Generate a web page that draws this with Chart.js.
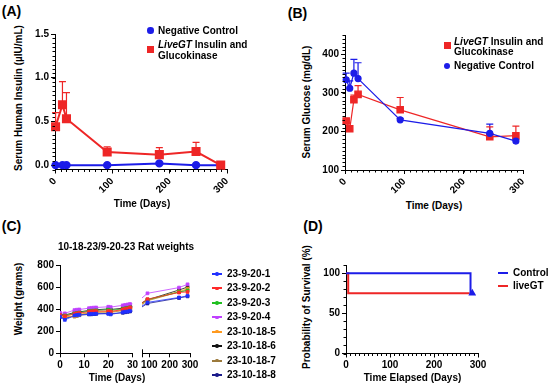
<!DOCTYPE html>
<html>
<head>
<meta charset="utf-8">
<script src="https://cdn.jsdelivr.net/npm/chart.js@4.4.1/dist/chart.umd.min.js"></script>
<style>
  body { margin: 0; width: 550px; height: 386px; position: relative; overflow: hidden; background: #fff;
         font-family: 'Liberation Sans', Arial, sans-serif; font-weight: bold; color: #000; }
  canvas { position: absolute; }
  .t { position: absolute; white-space: nowrap; line-height: 1; }
  .mk { position: absolute; }
</style>
</head>
<body>
<canvas id="panelA"></canvas>
<canvas id="panelB"></canvas>
<canvas id="panelC1"></canvas>
<canvas id="panelC2"></canvas>
<canvas id="panelD"></canvas>
<script>
// (A) serum human insulin
const insulinDays = [1, 13, 20, 91, 182, 246, 289];
const insulinControl = [0, 0, 0, 0, 0.02, 0, 0];
const insulinLiveGT = [0.44, 0.69, 0.53, 0.15, 0.12, 0.155, 0];
const insulinLiveGTUpper = [0.6, 0.955, 0.83, 0.21, 0.2, 0.26, 0];
const insulinTicks = [0, 0.5, 1.0, 1.5];
const dayTicks = [0, 100, 200, 300];

// (B) serum glucose
const glucoseDays = [2, 8, 15, 22, 93, 244, 288];
const glucoseLiveGT = [227, 207, 282, 296, 256, 186, 189];
const glucoseLiveGTUpper = [227, 207, 294, 319, 288, 212, 214];
const glucoseControl = [334, 312, 351, 337, 230, 195, 175];
const glucoseControlUpper = [351, 331, 387, 378, 234, 219, 180];
const glucoseTicks = [100, 200, 300, 400];

// (C) rat weights
const weightDays = [0, 2, 6, 7, 8, 12, 13, 14, 15, 20, 21, 26, 27, 28, 29, 91, 246, 288];
const rat1 = [335, 305, 345, 350, 352, 358, 360, 360, 362, 360, 355, 375, 380, 382, 388, 465, 510, 525];
const rat2 = [350, 340, 360, 365, 368, 380, 382, 384, 385, 386, 382, 400, 405, 410, 418, 495, 555, 560];
const rat3 = [345, 345, 362, 368, 372, 385, 388, 390, 392, 398, 392, 405, 410, 415, 420, 490, 560, 575];
const rat4 = [370, 365, 395, 398, 400, 412, 415, 417, 418, 425, 422, 438, 442, 446, 450, 548, 600, 630];
const rat5 = [340, 335, 340, 348, 355, 372, 374, 376, 378, 380, 378, 395, 398, 402, 408, 485, 565, 590];
const rat6 = [355, 350, 372, 375, 378, 392, 395, 396, 398, 405, 400, 412, 418, 422, 428, 488, 578, 605];
const rat7 = [345, 340, 335, 342, 350, 368, 370, 372, 374, 376, 374, 390, 394, 398, 402, 480, 560, 575];
const rat8 = [330, 320, 340, 345, 348, 355, 356, 358, 360, 365, 362, 370, 375, 378, 382, 455, 505, 520];
const ratWeights = [rat1, rat2, rat3, rat4, rat5, rat6, rat7, rat8];
const ratNames = ["23-9-20-1", "23-9-20-2", "23-9-20-3", "23-9-20-4", "23-10-18-5", "23-10-18-6", "23-10-18-7", "23-10-18-8"];
const weightTicks = [0, 200, 400, 600, 800];
const earlyDayTicks = [0, 10, 20, 30];
const lateDayTicks = [100, 200, 300];

// (D) survival
const controlDays = [0, 283, 287];
const controlSurvival = [100, 75, 75];
const liveGTDays = [0, 5, 281];
const liveGTSurvival = [100, 75, 75];
const survivalTicks = [0, 50, 100];

const BLUE = "#1c1ce8";
const RED = "#ee2626";
const ratColors = ["#2030ff", "#ff2a2a", "#20c020", "#c040ff", "#ff9a1f", "#111111", "#9c7a3c", "#1a1a8a"];

Chart.defaults.font.family = "'Liberation Sans', Arial, sans-serif";
Chart.defaults.font.size = 10;
Chart.defaults.font.weight = "bold";
Chart.defaults.color = "#000";

const pts = (xs, ys) => xs.map((x, i) => ({ x: x, y: ys[i] }));

// error bar caps, minor ticks, axis break mark
const axisExtras = {
  id: "axisExtras",
  beforeDatasetsDraw(chart) {
    const ctx = chart.ctx, xs = chart.scales.x, ys = chart.scales.y;
    chart.data.datasets.forEach((ds) => {
      if (!ds.upper) return;
      ctx.save();
      ctx.strokeStyle = ds.borderColor;
      ctx.lineWidth = 1.2;
      ds.data.forEach((p, j) => {
        const top = ds.upper[j];
        if (top == null || top <= p.y) return;
        const x = xs.getPixelForValue(p.x);
        const y0 = ys.getPixelForValue(p.y), y1 = ys.getPixelForValue(top);
        ctx.beginPath();
        ctx.moveTo(x, y0); ctx.lineTo(x, y1);
        ctx.moveTo(x - 3.5, y1); ctx.lineTo(x + 3.5, y1);
        ctx.stroke();
      });
      ctx.restore();
    });
  },
  afterDraw(chart, args, opts) {
    const ctx = chart.ctx, a = chart.chartArea;
    ctx.save();
    ctx.strokeStyle = "#000";
    ctx.lineWidth = 1;
    if (opts.xMinor) {
      const s = chart.scales.x;
      for (let k = Math.ceil(s.min / opts.xMinor); k * opts.xMinor <= s.max + 1e-9; k++) {
        const x = Math.round(s.getPixelForValue(k * opts.xMinor)) + 0.5;
        ctx.beginPath(); ctx.moveTo(x, a.bottom); ctx.lineTo(x, a.bottom + 2.5); ctx.stroke();
      }
    }
    if (opts.yMinor) {
      const s = chart.scales.y;
      for (let k = Math.ceil(s.min / opts.yMinor - 1e-9); k * opts.yMinor <= s.max + 1e-9; k++) {
        const y = Math.round(s.getPixelForValue(k * opts.yMinor)) + 0.5;
        ctx.beginPath(); ctx.moveTo(a.left - 2.5, y); ctx.lineTo(a.left, y); ctx.stroke();
      }
    }
    if (opts.breakMark) {
      const x = Math.round(a.left) + 0.5;
      ctx.beginPath(); ctx.moveTo(x, a.bottom - 4); ctx.lineTo(x, a.bottom + 4); ctx.stroke();
    }
    ctx.restore();
  }
};
Chart.register(axisExtras);

function axis(min, max, ticks, tickOpts) {
  return {
    type: "linear", min: min, max: max,
    afterBuildTicks: (s) => { s.ticks = ticks.map((v) => ({ value: v })); },
    grid: { drawOnChartArea: false, color: "#000", tickLength: 4 },
    border: { color: "#000", width: 1 },
    ticks: Object.assign({ color: "#000", padding: 2, maxRotation: 0 }, tickOpts || {})
  };
}

function panel(id, box, area, config) {
  const cv = document.getElementById(id);
  cv.width = box.w; cv.height = box.h;
  cv.style.left = box.l + "px"; cv.style.top = box.t + "px";
  const o = config.options;
  o.responsive = false; o.animation = false; o.devicePixelRatio = 1; o.events = [];
  const yShown = o.scales.y.display !== false;
  o.layout = { padding: { top: area.t - box.t, right: box.l + box.w - area.r, bottom: 0, left: yShown ? 0 : area.l - box.l } };
  o.scales.x.afterFit = (s) => { s.height = box.t + box.h - area.b; };
  if (yShown) o.scales.y.afterFit = (s) => { s.width = area.l - box.l; };
  o.plugins = Object.assign({ legend: { display: false }, tooltip: { enabled: false } }, o.plugins || {});
  return new Chart(cv, config);
}

// panel A
panel("panelA", { l: 25, t: 0, w: 225, h: 200 }, { l: 55, t: 34, r: 227, b: 169.5 }, {
  type: "line",
  data: {
    datasets: [
      { label: "LiveGT Insulin and Glucokinase", data: pts(insulinDays, insulinLiveGT), upper: insulinLiveGTUpper,
        borderColor: RED, backgroundColor: RED, pointStyle: "rect", pointRadius: 5, borderWidth: 2, clip: 8 },
      { label: "Negative Control", data: pts(insulinDays, insulinControl),
        borderColor: BLUE, backgroundColor: BLUE, pointRadius: 3.2, borderWidth: 2, clip: 8 }
    ]
  },
  options: {
    scales: {
      x: axis(0, 300, dayTicks, { minRotation: 45, maxRotation: 45 }),
      y: axis(-0.05, 1.5, insulinTicks, { callback: (v) => v.toFixed(1) })
    },
    plugins: { axisExtras: { xMinor: 10, yMinor: 0.05 } }
  }
});

// panel B
panel("panelB", { l: 318, t: 0, w: 220, h: 200 }, { l: 345, t: 35, r: 523, b: 170 }, {
  type: "line",
  data: {
    datasets: [
      { label: "Negative Control", data: pts(glucoseDays, glucoseControl), upper: glucoseControlUpper,
        borderColor: BLUE, backgroundColor: BLUE, pointRadius: 3, borderWidth: 1.2, clip: 8 },
      { label: "LiveGT Insulin and Glucokinase", data: pts(glucoseDays, glucoseLiveGT), upper: glucoseLiveGTUpper,
        borderColor: RED, backgroundColor: RED, pointStyle: "rect", pointRadius: 4.5, borderWidth: 1.2, clip: 8 }
    ]
  },
  options: {
    scales: {
      x: axis(0, 300, dayTicks, { minRotation: 45, maxRotation: 45 }),
      y: axis(100, 450, glucoseTicks)
    },
    plugins: { axisExtras: { xMinor: 10, yMinor: 10 } }
  }
});

// panel C, two segments of a broken x axis
const ratSets = () => ratWeights.map((w, i) => ({
  label: ratNames[i], data: pts(weightDays, w),
  borderColor: ratColors[i], backgroundColor: ratColors[i],
  pointStyle: "rect", pointRadius: 2, borderWidth: 0.8
}));
panel("panelC1", { l: 30, t: 240, w: 110, h: 146 }, { l: 60, t: 265.7, r: 134, b: 353.3 }, {
  type: "line",
  data: { datasets: ratSets() },
  options: { scales: { x: axis(0, 30, earlyDayTicks), y: axis(0, 800, weightTicks) } }
});
panel("panelC2", { l: 135, t: 240, w: 70, h: 146 }, { l: 142, t: 265.7, r: 190, b: 353.3 }, {
  type: "line",
  data: { datasets: ratSets() },
  options: {
    scales: { x: axis(64, 300, lateDayTicks), y: Object.assign(axis(0, 800, weightTicks), { display: false }) },
    plugins: { axisExtras: { breakMark: true } }
  }
});

// panel D
panel("panelD", { l: 315, t: 240, w: 185, h: 146 }, { l: 346, t: 265.3, r: 478, b: 353.5 }, {
  type: "line",
  data: {
    datasets: [
      { label: "Control", data: pts(controlDays, controlSurvival), stepped: true,
        borderColor: BLUE, backgroundColor: BLUE, borderWidth: 2, clip: 4,
        pointStyle: "triangle", pointRadius: [0, 0, 2.5] },
      { label: "liveGT", data: pts(liveGTDays, liveGTSurvival), stepped: true,
        borderColor: RED, backgroundColor: RED, borderWidth: 2, pointRadius: 0, clip: 4 }
    ]
  },
  options: {
    scales: { x: axis(0, 300, dayTicks), y: axis(0, 110, survivalTicks) },
    plugins: { axisExtras: { xMinor: 10, yMinor: 10 } }
  }
});

// text and legends
function text(html, x, y, size, opts) {
  opts = opts || {};
  const d = document.createElement("div");
  d.className = "t";
  d.innerHTML = html;
  d.style.fontSize = size + "px";
  d.style.left = x + "px";
  d.style.top = y + "px";
  if (opts.lh) d.style.lineHeight = opts.lh + "px";
  const shift = opts.left ? "translate(0,-50%)" : "translate(-50%,-50%)";
  d.style.transform = shift + (opts.rot ? " rotate(-90deg)" : "");
  document.body.appendChild(d);
}
function marker(kind, x, y, size, color) {
  const d = document.createElement("div");
  d.className = "mk";
  d.style.background = color;
  if (kind === "line") {
    d.style.left = x - size / 2 + "px"; d.style.top = y - 1 + "px";
    d.style.width = size + "px"; d.style.height = "2px";
  } else {
    d.style.left = x - size / 2 + "px"; d.style.top = y - size / 2 + "px";
    d.style.width = size + "px"; d.style.height = size + "px";
    if (kind === "circle") d.style.borderRadius = "50%";
  }
  document.body.appendChild(d);
}

text("(A)", 11.5, 10.5, 14);
text("(B)", 297.5, 12.5, 14);
text("(C)", 11.5, 225.5, 14);
text("(D)", 313, 226, 14);

text("Serum Human Insulin (µIU/mL)", 19, 98, 10, { rot: true });
text("Time (Days)", 142, 204, 10);
text("Serum Glucose (mg/dL)", 307, 102, 10, { rot: true });
text("Time (Days)", 434, 206, 10);
text("10-18-23/9-20-23 Rat weights", 126, 247, 10);
text("Weight (grams)", 18.5, 299, 10, { rot: true });
text("Time (Days)", 117, 377.5, 10);
text("Probability of Survival (%)", 307, 307, 10, { rot: true });
text("Time Elapsed (Days)", 412.5, 377.7, 10);

marker("circle", 150.7, 30.7, 6.5, BLUE);
text("Negative Control", 158, 30.7, 10, { left: true });
marker("square", 150.7, 49.3, 7, RED);
text("<i>LiveGT</i> Insulin and<br>Glucokinase", 158, 50, 10, { left: true, lh: 11.4 });

marker("square", 447.3, 45.7, 6.5, RED);
text("<i>LiveGT</i> Insulin and<br>Glucokinase", 454, 46.7, 10, { left: true, lh: 10 });
marker("circle", 446.5, 65.7, 6, BLUE);
text("Negative Control", 454, 65.7, 10, { left: true });

ratNames.forEach((name, i) => {
  const y = 274 + i * 14.43;
  marker("line", 217, y, 10, ratColors[i]);
  marker("circle", 217, y, 3.5, ratColors[i]);
  text(name, 227, y, 10, { left: true });
});

marker("line", 503, 272.7, 10, BLUE);
text("Control", 513, 272.7, 10, { left: true });
marker("line", 503, 285.7, 10, RED);
text("liveGT", 513, 285.7, 10, { left: true });
</script>
</body>
</html>
